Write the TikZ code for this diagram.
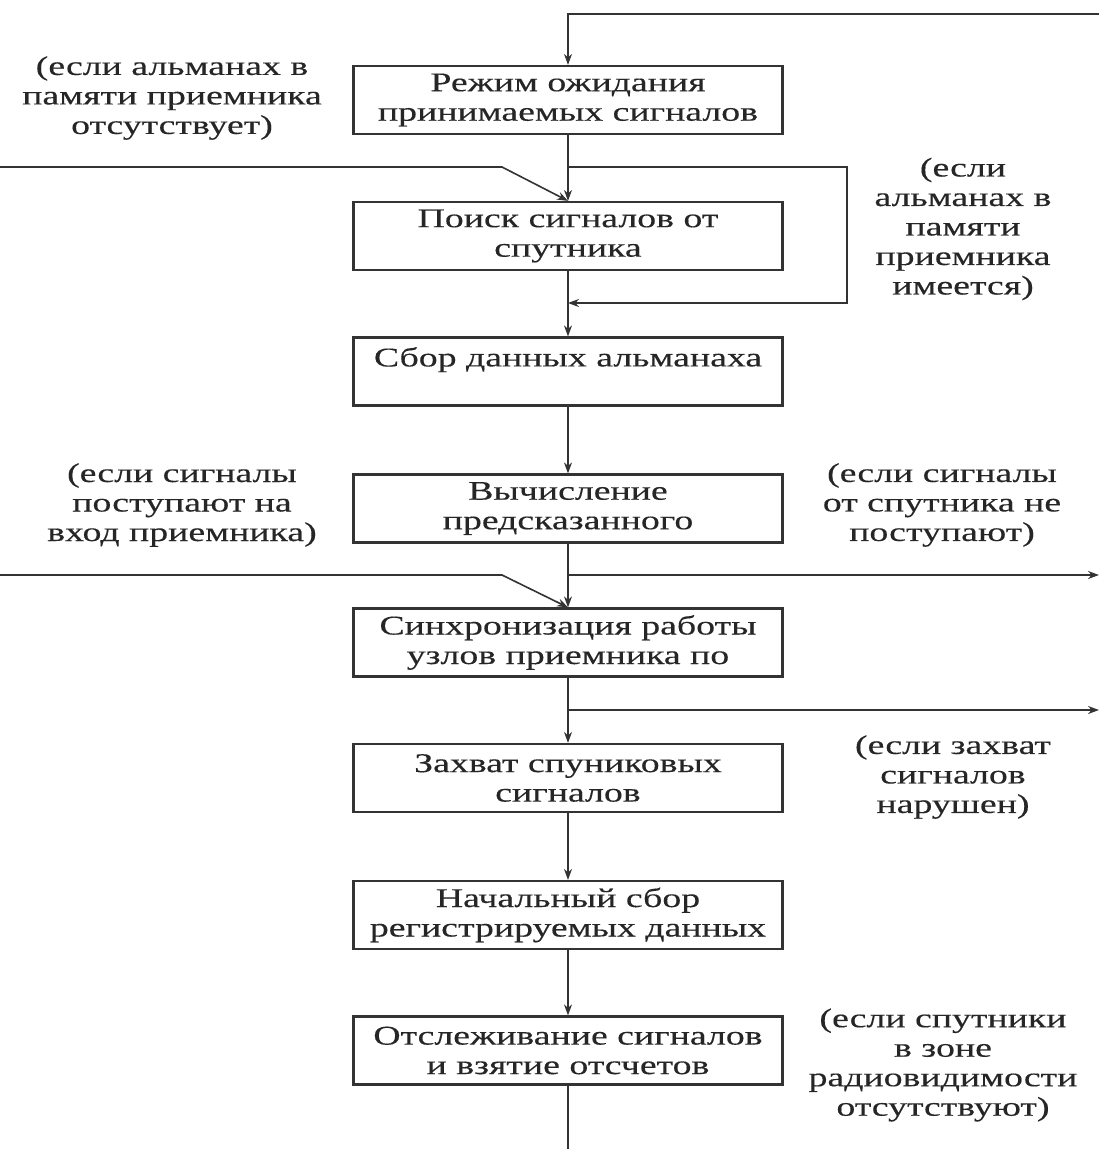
\documentclass[tikz,border=0pt]{standalone}
\usepackage{fontspec}
\setmainfont{Liberation Serif}[FakeStretch=1.4,FakeBold=0.3]
\usetikzlibrary{arrows.meta}
\begin{document}
\begin{tikzpicture}[x=1pt,y=-1pt,
  every node/.style={font=\fontsize{27}{29.5}\selectfont, text=black!85},
  stepbox/.style={draw=black!80, line width=2.2pt, minimum width=429pt, minimum height=68pt, align=center, inner sep=0pt},
  note/.style={align=center, inner sep=0pt},
  conn/.style={draw=black!80, line width=1.6pt},
  arr/.style={conn, -{Stealth[length=11pt,width=8pt]}}]
\useasboundingbox (0,0) rectangle (1099,1149);
\node[stepbox] (b1) at (568,100) {Режим ожидания\\принимаемых сигналов};
\node[stepbox] (b2) at (568,236) {Поиск сигналов от\\спутника};
\node[stepbox] (b3) at (568,371.5) {Сбор данных альманаха\\\mbox{}};
\node[stepbox] (b4) at (568,508.5) {Вычисление\\предсказанного};
\node[stepbox] (b5) at (568,642.5) {Синхронизация работы\\узлов приемника по};
\node[stepbox] (b6) at (568,778) {Захват спуниковых\\сигналов};
\node[stepbox] (b7) at (568,915) {Начальный сбор\\регистрируемых данных};
\node[stepbox] (b8) at (568,1050.5) {Отслеживание сигналов\\и взятие отсчетов};

\node[note] (n1) at (172,98) {(если альманах в\\памяти приемника\\отсутствует)};
\node[note] (n2) at (963,229) {(если\\альманах в\\памяти\\приемника\\имеется)};
\node[note] (n3) at (182,505) {(если сигналы\\поступают на\\вход приемника)};
\node[note] (n4) at (942,505) {(если сигналы\\от спутника не\\поступают)};
\node[note] (n5) at (953,777) {(если захват\\сигналов\\нарушен)};
\node[note] (n6) at (943,1065) {(если спутники\\в зоне\\радиовидимости\\отсутствуют)};

\coordinate (t1) at (1099,14);
\coordinate (l1) at (0,167);
\coordinate (l1k) at (502,167);
\coordinate (j1) at (568,167);
\coordinate (r1) at (847,167);
\coordinate (r2) at (847,303);
\coordinate (j2) at (568,303);
\coordinate (l2) at (0,575);
\coordinate (l2k) at (502,575);
\coordinate (j3) at (568,575);
\coordinate (o1) at (1099,575);
\coordinate (j4) at (568,710);
\coordinate (o2) at (1099,710);
\coordinate (e1) at (568,1149);

\draw[arr] (t1) -| (b1.north);
\draw[arr] (b1.south) -- (b2.north);
\draw[arr] (l1) -- (l1k) -- (b2.north);
\draw[arr] (j1) -- (r1) -- (r2) -- (j2);
\draw[arr] (b2.south) -- (b3.north);
\draw[arr] (b3.south) -- (b4.north);
\draw[arr] (b4.south) -- (b5.north);
\draw[arr] (l2) -- (l2k) -- (b5.north);
\draw[arr] (j3) -- (o1);
\draw[arr] (b5.south) -- (b6.north);
\draw[arr] (j4) -- (o2);
\draw[arr] (b6.south) -- (b7.north);
\draw[arr] (b7.south) -- (b8.north);
\draw[conn] (b8.south) -- (e1);
\end{tikzpicture}
\end{document}
